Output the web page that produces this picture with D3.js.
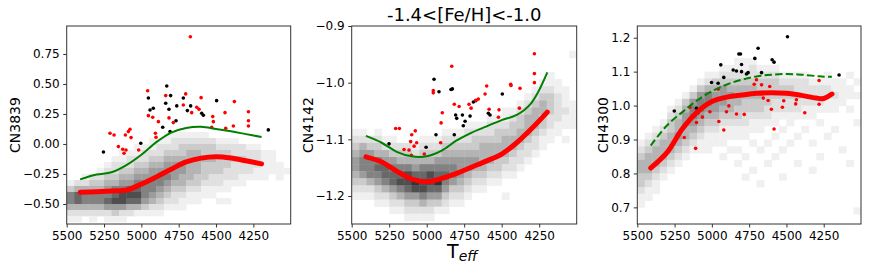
<!DOCTYPE html>
<html>
<head>
<meta charset="utf-8">
<script src="https://cdn.jsdelivr.net/npm/d3@7"></script>
<style>
  body { margin: 0; background: #fff; }
  svg { display: block; font-family: "DejaVu Sans", sans-serif; }
</style>
</head>
<body>
<svg id="chart" width="872" height="273"></svg>
<script>
// shared x axis (Teff, reversed)
const teffLimits = [5500, 4000];
const teffTicks = [5500, 5250, 5000, 4750, 4500, 4250];
// centres of the density columns, 50 K wide
const teffBins = [5475, 5425, 5375, 5325, 5275, 5225, 5175, 5125, 5075, 5025,
                  4975, 4925, 4875, 4825, 4775, 4725, 4675, 4625, 4575, 4525,
                  4475, 4425, 4375, 4325, 4275, 4225, 4175, 4125, 4075, 4025];

// ---- CN3839 ----
const cn3839Limits = [-0.667, 0.983];
const cn3839Ticks = [-0.5, -0.25, 0, 0.25, 0.5, 0.75];
const cn3839Rows = [0.125, 0.075, 0.025, -0.025, -0.075, -0.125, -0.175, -0.225,
                    -0.275, -0.325, -0.375, -0.425, -0.475, -0.525, -0.575, -0.625];
// one string per Teff column, top row first, 0 = empty .. 9 = darkest
const cn3839Density = [
  "0000000001366421", "0000000002477421", "0000000012466420", "0000000023466421",
  "0000000123466420", "0000001234567521", "0000012234678531", "0000112345688521",
  "0000122345787420", "0001123456787410", "0001223456665310", "0011234556654210",
  "0012234566543210", "0112345565432100", "0122345554322100", "0123345544321100",
  "0123444443211000", "0123444433211000", "0123343332110000", "0023343322110000",
  "0012333322101000", "0012333221101000", "0012232221000000", "0002232211000000",
  "0001222210000000", "0001222110000000", "0000111110000000", "0000111100000000",
  "0000001110000000", "0000000100000000"
];
const cn3839FitTeff = [5410, 5300, 5200, 5100, 5000, 4900, 4800, 4700, 4600, 4500, 4400, 4300, 4195];
const cn3839Green = [-0.295, -0.255, -0.236, -0.176, -0.09, 0.015, 0.095, 0.133, 0.143, 0.125, 0.105, 0.082, 0.058];
const cn3839Red = [-0.403, -0.398, -0.392, -0.384, -0.335, -0.275, -0.21, -0.15, -0.118, -0.106, -0.117, -0.14, -0.166];
const cn3839BlackTeff = [5254, 5004, 4953, 4942, 4920, 4857, 4837, 4830, 4815, 4804, 4808, 4768, 4763, 4719, 4692, 4670, 4596, 4585, 4496, 4150];
const cn3839BlackVal = [-0.067, 0.006, 0.383, 0.283, 0.297, 0.139, 0.339, 0.483, 0.289, 0.403, 0.103, 0.194, 0.317, 0.383, 0.278, 0.317, 0.256, 0.239, 0.361, 0.117];
const cn3839RedTeff = [5210, 5183, 5154, 5125, 5116, 5103, 5107, 5087, 5076, 5069, 5018, 4958, 4953, 4924, 4906, 4902, 4886, 4837, 4815, 4786,
                       4719, 4703, 4672, 4663, 4629, 4614, 4600, 4529, 4522, 4518, 4440, 4435, 4384, 4377, 4283, 4283, 4283];
const cn3839RedVal = [0.089, 0.075, -0.022, -0.044, -0.078, -0.05, 0.075, 0.103, 0.122, 0.053, -0.05, 0.444, 0.236, 0.222, 0.089, 0.056, 0.186, 0.403, 0.217, 0.178,
                      0.325, 0.417, 0.894, 0.261, 0.306, 0.289, 0.386, 0.139, 0.228, 0.186, 0.261, 0.131, 0.15, 0.353, 0.269, 0.194, 0.15];

// ---- CN4142 ----
const cn4142Limits = [-1.2494, -0.9];
const cn4142Ticks = [-1.2, -1.1, -1.0, -0.9];
const cn4142Rows = [-0.95, -0.9625, -0.975, -0.9875, -1.0, -1.0125, -1.025, -1.0375, -1.05, -1.0625,
                    -1.075, -1.0875, -1.1, -1.1125, -1.125, -1.1375, -1.15, -1.1625, -1.175, -1.1875,
                    -1.2, -1.2125, -1.225, -1.2375, -1.25];
const cn4142Density = [
  "0000000000012345543210000", "0000000000012456653210000", "0000000000002356664210000",
  "0000000000012346765321000", "0000000000001245776421000", "0000000000001235677532100",
  "0000000000000234678642100", "0000000000000234688753210", "0000000000000124579853210",
  "0000000000001234678864210", "0000000000001234688753210", "0000000000001235679753100",
  "0000000000012345676532100", "0000000000012345665321000", "0000000000012345554321000",
  "0000000000122345543210000", "0000000000123345432100000", "0000000000123444432100000",
  "0000000001223444321000000", "0000000001233443321000000", "0000000011234443210010000",
  "0000000012334432210000000", "0000000123344322100000000", "0000001234443221000000000",
  "0000012344432210000000000", "0000123443321100000000000", "0001123332211000000000000",
  "0000112222110000000000000", "0000011121101000000000000", "1000000111100000000000000"
];
const cn4142FitTeff = [5405, 5300, 5200, 5100, 5000, 4900, 4800, 4700, 4600, 4500, 4400, 4300, 4196];
const cn4142Green = [-1.094, -1.106, -1.122, -1.13, -1.13, -1.12, -1.102, -1.088, -1.077, -1.066, -1.057, -1.035, -0.982];
const cn4142Red = [-1.131, -1.14, -1.156, -1.17, -1.175, -1.169, -1.16, -1.149, -1.138, -1.126, -1.106, -1.081, -1.052];
const cn4142BlackTeff = [5251, 5004, 4951, 4938, 4918, 4838, 4829, 4816, 4807, 4800, 4762, 4756, 4744, 4711, 4689, 4673, 4589, 4578, 4496];
const cn4142BlackVal = [-1.108, -1.114, -0.994, -1.092, -1.016, -1.012, -1.011, -1.092, -1.057, -1.063, -1.057, -1.076, -1.068, -1.059, -1.034, -1.032, -1.054, -1.057, -1.02];
const cn4142RedTeff = [5207, 5182, 5151, 5118, 5107, 5100, 5084, 5076, 5067, 5102, 5016, 4956, 4956, 4904, 4896, 4907, 4833, 4816,
                       4784, 4718, 4704, 4673, 4656, 4611, 4600, 4584, 4522, 4518, 4440, 4438, 4378, 4382, 4282, 4282, 4282];
const cn4142RedVal = [-1.081, -1.081, -1.118, -1.119, -1.104, -1.092, -1.112, -1.085, -1.106, -1.128, -1.126, -1.014, -1.018, -1.071, -1.053, -1.106, -0.971, -1.038,
                      -1.042, -1.038, -1.045, -1.031, -1.029, -1.02, -1.006, -1.047, -1.061, -1.048, -1.003, -1.005, -1.01, -1.045, -0.949, -0.984, -1.0];

// ---- CH4300 ----
const ch4300Limits = [0.651, 1.2345];
const ch4300Ticks = [0.7, 0.8, 0.9, 1.0, 1.1, 1.2];
const ch4300Rows = [1.17, 1.15, 1.13, 1.11, 1.09, 1.07, 1.05, 1.03, 1.01, 0.99, 0.97, 0.95, 0.93, 0.91,
                    0.89, 0.87, 0.85, 0.83, 0.81, 0.79, 0.77, 0.75, 0.73, 0.71, 0.69, 0.67, 0.65];
const ch4300Density = [
  "000000000000001234433211000", "000000000000012344432110000", "000000000000123444321100000",
  "000000000001234443210000000", "000000000123344432100000000", "000000001234454321000000000",
  "000000013455443210000000000", "000000135665432100000000000", "000001356654321100000000000",
  "000012466543211100000000000", "000013455543211000000000000", "000123555432111010000000000",
  "000123454432110100000000000", "001123444332110101000000000", "001123443322110010010000000",
  "001223443321101000100000000", "000123343321100100001000000", "000123333221001001000000000",
  "000123332211010010000000000", "000012332210100100010000000", "000012332211001000000000000",
  "000012232210010001000000000", "000012222110100000000000000", "000001222110001000100000000",
  "000001222101000010000000000", "000011221100010000000000000", "000001121100100000000000000",
  "000001111000000100000000000", "000010110100000001000000000", "000001010001000000000000100"
];
const ch4300FitTeff = [5410, 5300, 5200, 5100, 5000, 4900, 4800, 4700, 4600, 4500, 4400, 4300, 4250, 4195];
const ch4300Green = [0.882, 0.942, 0.98, 1.015, 1.042, 1.062, 1.076, 1.086, 1.091, 1.093, 1.091, 1.087, 1.085, 1.085];
const ch4300Red = [0.816, 0.862, 0.93, 0.98, 1.012, 1.025, 1.031, 1.036, 1.038, 1.036, 1.03, 1.022, 1.021, 1.034];
const ch4300BlackTeff = [5252, 5103, 5095, 5002, 4958, 4940, 4920, 4857, 4835, 4819, 4808, 4801, 4801, 4768, 4757, 4712, 4690, 4667, 4596, 4583, 4493, 4147];
const ch4300BlackVal = [0.984, 0.992, 0.978, 1.068, 1.066, 1.12, 1.083, 1.105, 1.102, 1.152, 1.152, 1.121, 1.1, 1.093, 1.097, 1.139, 1.169, 1.097, 1.135, 1.128, 1.203, 1.09];
const ch4300RedTeff = [5185, 5147, 5114, 5109, 5103, 5063, 5013, 4958, 4953, 4920, 4902, 4886, 4835, 4783, 4716,
                       4701, 4667, 4655, 4623, 4612, 4601, 4583, 4527, 4518, 4438, 4433, 4377, 4281, 4281];
const ch4300RedVal = [0.906, 0.995, 0.972, 0.874, 0.95, 0.966, 0.982, 1.048, 0.953, 0.928, 0.982, 0.999, 0.975, 0.974, 1.063,
                      1.076, 1.061, 1.022, 1.015, 1.056, 0.989, 0.931, 0.995, 1.014, 1.005, 1.017, 0.979, 1.074, 1.004];

const titleText = "-1.4<[Fe/H]<-1.0";

const svg = d3.select("#chart");
const plotTop = 26;
const plotBottom = 224;
// density level -> grey, light end kept pale like sparse hexbin cells
const grey = d3.scaleLinear()
  .domain([1, 2, 3, 5, 7, 9])
  .range(["#f0f0f0", "#e0e0e0", "#cbcbcb", "#9c9c9c", "#686868", "#333333"]);

const panels = [
  { id: "p1", left: 66.7, right: 290.7, labelX: 15, label: "CN3839", yLimits: cn3839Limits, yTicks: cn3839Ticks, fmt: ".2f",
    rows: cn3839Rows, density: cn3839Density, fitTeff: cn3839FitTeff, green: cn3839Green, red: cn3839Red, dashed: false,
    blackTeff: cn3839BlackTeff, blackVal: cn3839BlackVal, redTeff: cn3839RedTeff, redVal: cn3839RedVal },
  { id: "p2", left: 351.7, right: 576.7, labelX: 308, label: "CN4142", yLimits: cn4142Limits, yTicks: cn4142Ticks, fmt: ".1f",
    rows: cn4142Rows, density: cn4142Density, fitTeff: cn4142FitTeff, green: cn4142Green, red: cn4142Red, dashed: false,
    blackTeff: cn4142BlackTeff, blackVal: cn4142BlackVal, redTeff: cn4142RedTeff, redVal: cn4142RedVal },
  { id: "p3", left: 637.3, right: 861, labelX: 603, label: "CH4300", yLimits: ch4300Limits, yTicks: ch4300Ticks, fmt: ".1f",
    rows: ch4300Rows, density: ch4300Density, fitTeff: ch4300FitTeff, green: ch4300Green, red: ch4300Red, dashed: true,
    blackTeff: ch4300BlackTeff, blackVal: ch4300BlackVal, redTeff: ch4300RedTeff, redVal: ch4300RedVal }
];

panels.forEach(drawPanel);

// title over the middle panel
svg.append("text")
  .attr("x", (panels[1].left + panels[1].right) / 2)
  .attr("y", 21)
  .attr("text-anchor", "middle")
  .attr("font-size", 18)
  .text(titleText);

// x label with subscript
const xlab = svg.append("text")
  .attr("x", (panels[1].left + panels[1].right) / 2 - 2)
  .attr("y", 258)
  .attr("text-anchor", "middle")
  .attr("font-size", 19);
xlab.append("tspan").text("T");
xlab.append("tspan").attr("font-size", 14).attr("font-style", "italic").attr("dy", 3).text("eff");

function drawPanel(p) {
  const x = d3.scaleLinear().domain(teffLimits).range([p.left, p.right]);
  const y = d3.scaleLinear().domain(p.yLimits).range([plotBottom, plotTop]);
  const g = svg.append("g");

  g.append("clipPath").attr("id", "clip-" + p.id)
    .append("rect")
      .attr("x", p.left).attr("y", plotTop)
      .attr("width", p.right - p.left).attr("height", plotBottom - plotTop);

  const inner = g.append("g").attr("clip-path", "url(#clip-" + p.id + ")");

  // density background
  const halfW = Math.abs(teffBins[1] - teffBins[0]) / 2;
  const halfH = Math.abs(p.rows[1] - p.rows[0]) / 2;
  const cells = [];
  p.density.forEach(function(col, i) {
    col.split("").forEach(function(ch, j) {
      const k = +ch;
      if (k > 0) cells.push({ teff: teffBins[i], val: p.rows[j], k: k });
    });
  });

  inner.append("g")
    .selectAll("rect")
    .data(cells)
    .enter().append("rect")
      .attr("x", function(d) { return x(d.teff + halfW); })
      .attr("y", function(d) { return y(d.val + halfH); })
      .attr("width", function(d) { return x(d.teff - halfW) - x(d.teff + halfW) + 0.4; })
      .attr("height", function(d) { return y(d.val - halfH) - y(d.val + halfH) + 0.4; })
      .attr("fill", function(d) { return grey(d.k); });

  // stars
  const black = p.blackTeff.map(function(t, i) { return [t, p.blackVal[i]]; });
  const red = p.redTeff.map(function(t, i) { return [t, p.redVal[i]]; });

  inner.append("g")
    .selectAll("circle")
    .data(black)
    .enter().append("circle")
      .attr("cx", function(d) { return x(d[0]); })
      .attr("cy", function(d) { return y(d[1]); })
      .attr("r", 1.8)
      .attr("fill", "#000");

  inner.append("g")
    .selectAll("circle")
    .data(red)
    .enter().append("circle")
      .attr("cx", function(d) { return x(d[0]); })
      .attr("cy", function(d) { return y(d[1]); })
      .attr("r", 1.8)
      .attr("fill", "#ff0000");

  // fitted trends
  const line = d3.line()
    .x(function(d) { return x(d[0]); })
    .y(function(d) { return y(d[1]); })
    .curve(d3.curveCatmullRom.alpha(0.5));

  inner.append("path")
    .datum(p.fitTeff.map(function(t, i) { return [t, p.green[i]]; }))
    .attr("d", line)
    .attr("fill", "none")
    .attr("stroke", "#008000")
    .attr("stroke-width", 2)
    .attr("stroke-dasharray", p.dashed ? "7.4,3.2" : null);

  inner.append("path")
    .datum(p.fitTeff.map(function(t, i) { return [t, p.red[i]]; }))
    .attr("d", line)
    .attr("fill", "none")
    .attr("stroke", "#ff0000")
    .attr("stroke-width", 5)
    .attr("stroke-linecap", "round");

  // axes
  const xAxis = g.append("g")
    .attr("transform", "translate(0," + plotBottom + ")")
    .call(d3.axisBottom(x).tickValues(teffTicks).tickSize(3.5).tickPadding(3.5).tickFormat(d3.format("d")));
  const yAxis = g.append("g")
    .attr("transform", "translate(" + p.left + ",0)")
    .call(d3.axisLeft(y).tickValues(p.yTicks).tickSize(3.5).tickPadding(3.5).tickFormat(d3.format(p.fmt)));

  [xAxis, yAxis].forEach(function(a) {
    a.select(".domain").remove();
    a.selectAll("line").attr("stroke", "#333");
    a.selectAll("text").attr("font-size", 12).attr("font-family", "DejaVu Sans").attr("fill", "#000");
  });

  g.append("rect")
    .attr("x", p.left).attr("y", plotTop)
    .attr("width", p.right - p.left).attr("height", plotBottom - plotTop)
    .attr("fill", "none")
    .attr("stroke", "#333")
    .attr("stroke-width", 1);

  g.append("text")
    .attr("transform", "translate(" + p.labelX + "," + (plotTop + plotBottom) / 2 + ") rotate(-90)")
    .attr("text-anchor", "middle")
    .attr("dy", "0.36em")
    .attr("font-size", 14)
    .text(p.label);
}
</script>
</body>
</html>
